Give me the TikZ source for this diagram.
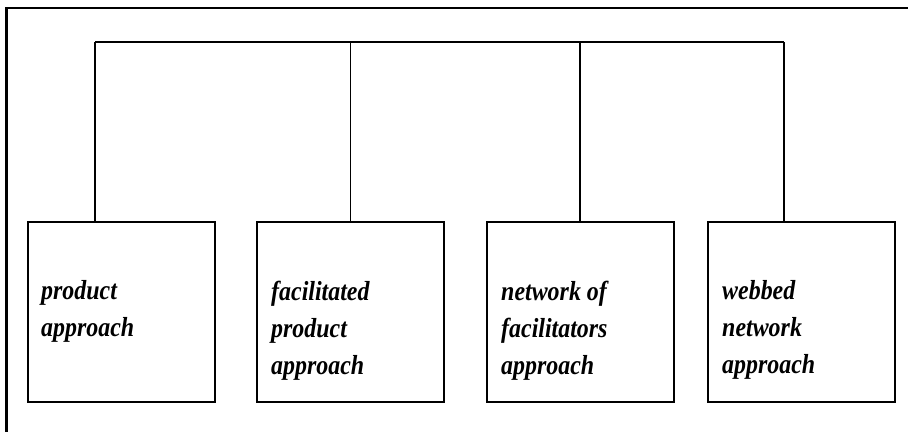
\documentclass[tikz,border=0pt]{standalone}
\usepackage{fontspec}
\usepackage[]{xcolor}
\usepackage{tikz}
\newfontfamily\apprfont{Liberation Serif}[FakeStretch=0.87]

\begin{document}
\begin{tikzpicture}[x=1pt,y=-1pt,
    apprbox/.style={draw,line width=2pt,minimum width=187pt,minimum height=180pt,inner sep=0pt},
    apprtext/.style={anchor=north west,align=left,inner sep=0pt,
      font=\apprfont\bfseries\itshape\fontsize{27.5}{37}\selectfont},
    link/.style={line width=1.5pt}]
      \useasboundingbox (0,0) rectangle (908,432);
      \draw[line width=2.6pt] (908,8) -- (6.5,8) -- (6.5,432);
      \node[apprbox] (b1) at (121.5,312) {};
      \node[apprbox] (b2) at (350.5,312) {};
      \node[apprbox] (b3) at (580.5,312) {};
      \node[apprbox] (b4) at (801.5,312) {};
      \node[apprtext] (l1) at ( 41,280.5) {product\\approach};
      \node[apprtext] (l2) at (271,280.5) {facilitated\\product\\approach};
      \node[apprtext] (l3) at (501,280.5) {network of\\facilitators\\approach};
      \node[apprtext] (l4) at (722,280.5) {webbed\\network\\approach};
      \coordinate (t1) at ( 95,42);
      \coordinate (t2) at (350.5,42);
      \coordinate (t3) at (580,42);
      \coordinate (t4) at (784,42);
      \draw[link] (t1) -- (t4);
      \draw[link] (t1) -- (t1 |- b1.north);
      \draw[link] (t2) -- (t2 |- b2.north);
      \draw[link] (t3) -- (t3 |- b3.north);
      \draw[link] (t4) -- (t4 |- b4.north);
\end{tikzpicture}
\end{document}
